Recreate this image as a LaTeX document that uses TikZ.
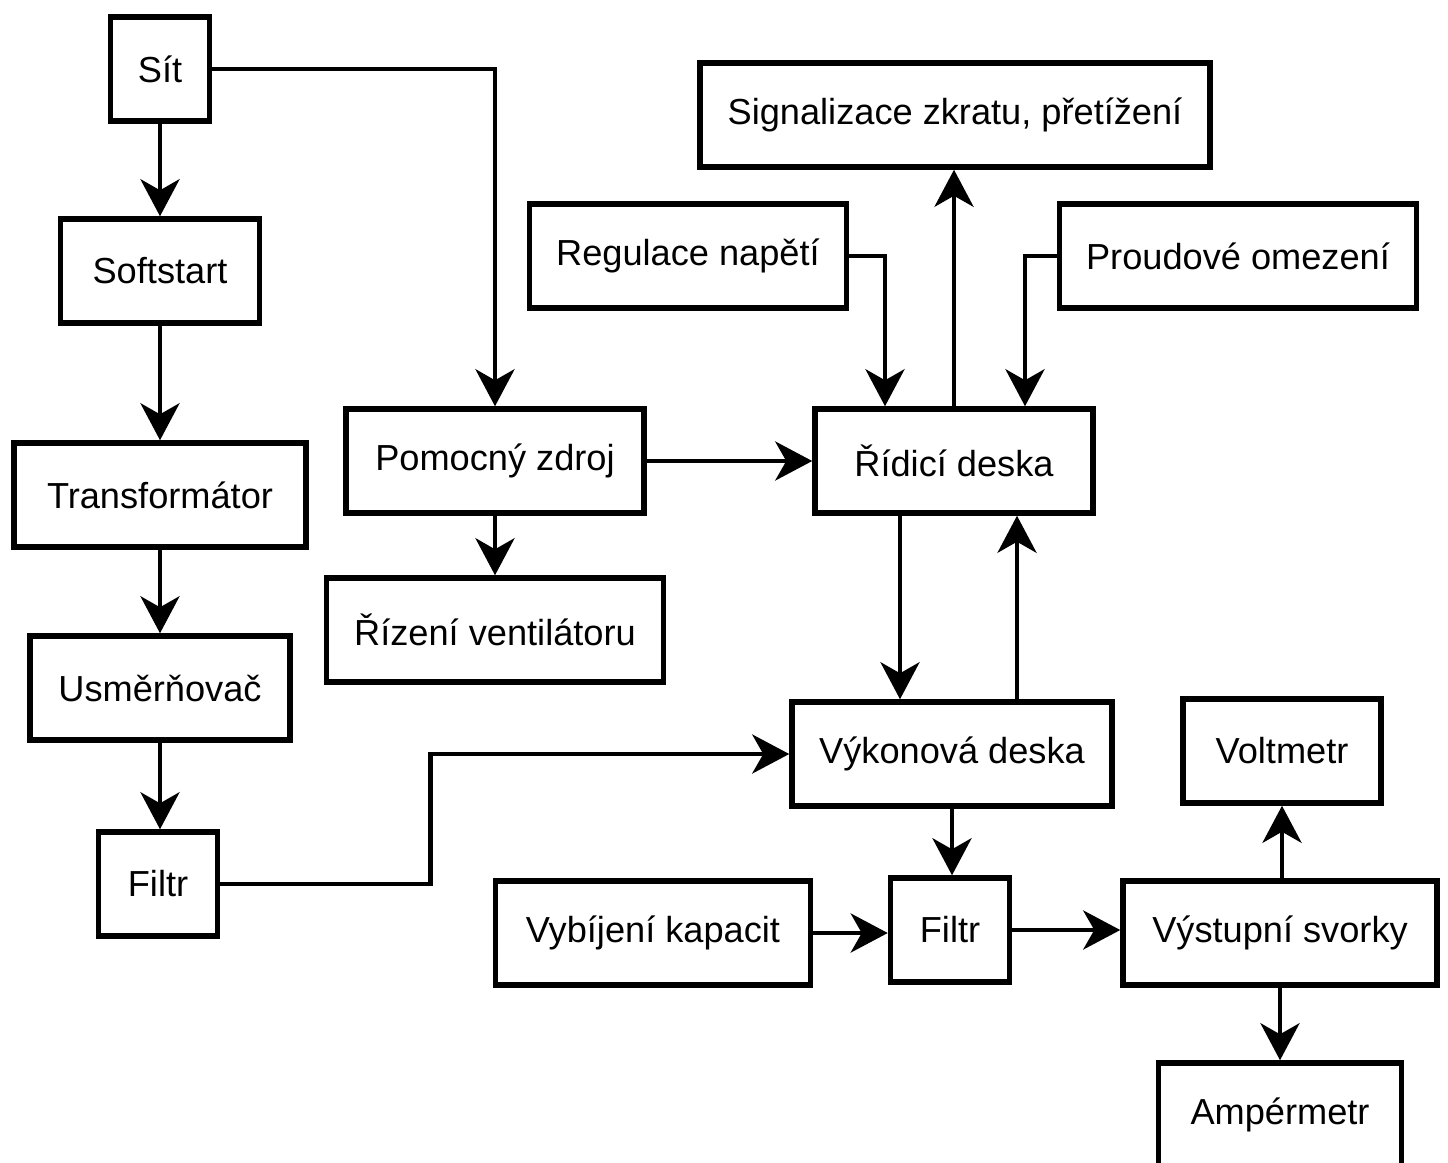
\documentclass[tikz,border=0pt]{standalone}
\usepackage{fontspec}
\setmainfont{Liberation Sans}
\usepackage{tikz}
\usetikzlibrary{arrows.meta,positioning}
\tikzstyle{blok}=[draw=black,line width=0.55mm,minimum height=10.4mm,inner sep=0pt,font=\fontsize{10.3}{12}\selectfont]

\begin{document}
\begin{tikzpicture}[x=0.1mm, y=-0.1mm,
    sipka/.style={line width=0.45mm, -{Stealth[length=3.7mm,width=3.9mm,inset=1.1mm]}},
    vedeni/.style={line width=0.45mm}]
  \useasboundingbox (0,0) rectangle (1448,1162);
  \clip (0,0) rectangle (1448,1162);
  \node[blok, minimum width=9.9mm] (sit) at (160,69) {Sít};
  \node[blok, minimum width=19.9mm] (softstart) at (160,271) {Softstart};
  \node[blok, minimum width=29.2mm] (transformator) at (160,495) {Transformátor};
  \node[blok, minimum width=26mm] (usmernovac) at (160,688) {Usměrňovač};
  \node[blok, minimum width=11.9mm] (filtrA) at (158,884) {Filtr};
  \node[blok, minimum width=29.8mm] (pomocny) at (495,461) {Pomocný zdroj};
  \node[blok, minimum width=33.7mm] (ventilator) at (495,630) {Řízení ventilátoru};
  \node[blok, minimum width=51mm] (signalizace) at (955,115) {Signalizace zkratu, přetížení};
  \node[blok, minimum width=31.7mm] (regulace) at (688,256) {Regulace napětí};
  \node[blok, minimum width=35.7mm] (omezeni) at (1238,256) {Proudové omezení};
  \node[blok, minimum width=27.8mm] (ridici) at (954,461) {Řídicí deska};
  \node[blok, minimum width=32mm] (vykonova) at (952,754) {Výkonová deska};
  \node[blok, minimum width=31.5mm] (vybijeni) at (653,933) {Vybíjení kapacit};
  \node[blok, minimum width=11.9mm] (filtrB) at (950,930) {Filtr};
  \node[blok, minimum width=31.4mm] (svorky) at (1280,933) {Výstupní svorky};
  \node[blok, minimum width=19.8mm] (voltmetr) at (1282,751) {Voltmetr};
  \node[blok, minimum width=24.3mm] (ampermetr) at (1280,1115) {Ampérmetr};

  \draw[sipka] (sit) -- (softstart);
  \draw[sipka] (softstart) -- (transformator);
  \draw[sipka] (transformator) -- (usmernovac);
  \draw[sipka] (usmernovac.south) -- (usmernovac.south |- filtrA.north);
  \draw[sipka] (sit.east) -| (pomocny.north);
  \draw[sipka] (filtrA.east) -- ++(210,0) |- (vykonova.west);
  \draw[sipka] (pomocny) -- (ridici);
  \draw[sipka] (pomocny) -- (ventilator);
  \draw[sipka] (regulace.east) -| ([xshift=-6.9mm]ridici.north);
  \draw[sipka] (omezeni.west) -| ([xshift=7.1mm]ridici.north);
  \draw[sipka] (ridici.north) -- (ridici.north |- signalizace.south);
  \coordinate (dolu) at ([xshift=-5.4mm]ridici.south);
  \coordinate (nahoru) at ([xshift=6.3mm]ridici.south);
  \draw[sipka] (dolu) -- (dolu |- vykonova.north);
  \draw[sipka] (nahoru |- vykonova.north) -- (nahoru);
  \draw[sipka] (vykonova.south) -- (vykonova.south |- filtrB.north);
  \draw[sipka] (vybijeni.east) -- (vybijeni.east -| filtrB.west);
  \draw[sipka] (filtrB.east) -- (filtrB.east -| svorky.west);
  \draw[sipka] (svorky.north -| voltmetr.south) -- (voltmetr.south);
  \draw[sipka] (svorky) -- (ampermetr);
\end{tikzpicture}
\end{document}
